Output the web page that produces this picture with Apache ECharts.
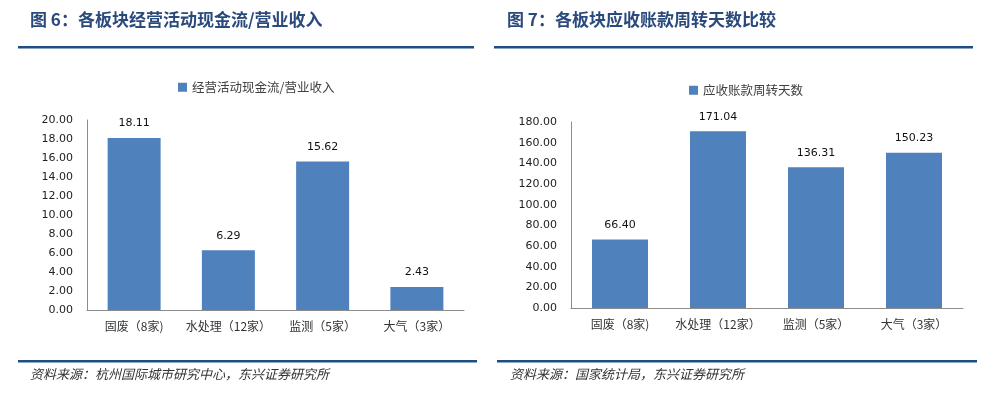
<!DOCTYPE html>
<html><head><meta charset="utf-8">
<script src="https://cdn.jsdelivr.net/npm/echarts@6/dist/echarts.min.js"></script>
<style>html,body{margin:0;padding:0;background:#fff}#c{width:993px;height:393px}</style>
</head><body><div id="c"></div>
<script>
const categories = ['固废（8家)', '水处理（12家）', '监测（5家）', '大气（3家）'];
const cashFlowRatio = [18.11, 6.29, 15.62, 2.43];
const receivableDays = [66.40, 171.04, 136.31, 150.23];
const leftTicks = {min: 0, max: 20, interval: 2};
const rightTicks = {min: 0, max: 180, interval: 20};
const leftTitle = '图 6：各板块经营活动现金流/营业收入';
const rightTitle = '图 7：各板块应收账款周转天数比较';
const leftSeriesName = '经营活动现金流/营业收入';
const rightSeriesName = '应收账款周转天数';
const leftSource = '资料来源：杭州国际城市研究中心，东兴证券研究所';
const rightSource = '资料来源：国家统计局，东兴证券研究所';

const cjk = '"Noto Sans CJK SC", sans-serif';
const num = '"DejaVu Sans", sans-serif';
const barColor = '#4f81bd';
const lineColor = '#1f4e82';
const titleColor = '#2a4a7c';

function xAxis(gi) {
  return {
    type: 'category', gridIndex: gi, data: categories,
    axisLine: {lineStyle: {color: '#8c8c8c', width: 1}},
    axisTick: {show: false},
    axisLabel: {fontFamily: cjk, fontSize: 12, color: '#333', margin: 10, interval: 0}
  };
}
function yAxis(gi, t) {
  return {
    type: 'value', gridIndex: gi, min: t.min, max: t.max, interval: t.interval,
    axisLine: {show: true, lineStyle: {color: '#8c8c8c', width: 1}},
    axisTick: {show: false},
    splitLine: {show: false},
    axisLabel: {fontFamily: num, fontSize: 11, color: '#222', margin: 14,
      formatter: v => v.toFixed(2)}
  };
}
function barSeries(name, data, i, bw) {
  return {
    name: name, type: 'bar', xAxisIndex: i, yAxisIndex: i, data: data,
    barWidth: bw, itemStyle: {color: barColor},
    label: {show: true, position: 'top', distance: 9, fontFamily: num, fontSize: 11, color: '#111',
      formatter: p => p.value.toFixed(2)},
    animation: false
  };
}

const chart = echarts.init(document.getElementById('c'), null, {renderer: 'canvas'});
chart.setOption({
  backgroundColor: '#fff',
  animation: false,
  legend: [
    {data: [leftSeriesName], left: 173, top: 76, itemWidth: 9, itemHeight: 9, icon: 'rect', itemGap: 4,
      textStyle: {fontFamily: cjk, fontSize: 12.5, color: '#404040'}},
    {data: [rightSeriesName], left: 684, top: 79, itemWidth: 9, itemHeight: 9, icon: 'rect', itemGap: 4,
      textStyle: {fontFamily: cjk, fontSize: 12.5, color: '#404040'}}
  ],
  grid: [
    {left: 87, top: 120, width: 377, height: 190},
    {left: 571, top: 122, width: 392, height: 186}
  ],
  xAxis: [xAxis(0), xAxis(1)],
  yAxis: [yAxis(0, leftTicks), yAxis(1, rightTicks)],
  series: [
    barSeries(leftSeriesName, cashFlowRatio, 0, 53),
    barSeries(rightSeriesName, receivableDays, 1, 56)
  ],
  graphic: [
    {type: 'text', left: 30, top: 11, style: {text: leftTitle, font: 'bold 17px ' + cjk, fill: titleColor}},
    {type: 'text', left: 507, top: 11, style: {text: rightTitle, font: 'bold 17px ' + cjk, fill: titleColor}},
    {type: 'rect', shape: {x: 18, y: 46, width: 456, height: 2.5}, style: {fill: lineColor}},
    {type: 'rect', shape: {x: 494, y: 46, width: 479, height: 2.5}, style: {fill: lineColor}},
    {type: 'rect', shape: {x: 18, y: 360, width: 459, height: 2.5}, style: {fill: lineColor}},
    {type: 'rect', shape: {x: 497, y: 360, width: 480, height: 2.5}, style: {fill: lineColor}},
    {type: 'text', left: 30, top: 368, style: {text: leftSource, font: 'italic 13px ' + cjk, fill: '#333'}},
    {type: 'text', left: 510, top: 368, style: {text: rightSource, font: 'italic 13px ' + cjk, fill: '#333'}}
  ]
});
</script></body></html>
